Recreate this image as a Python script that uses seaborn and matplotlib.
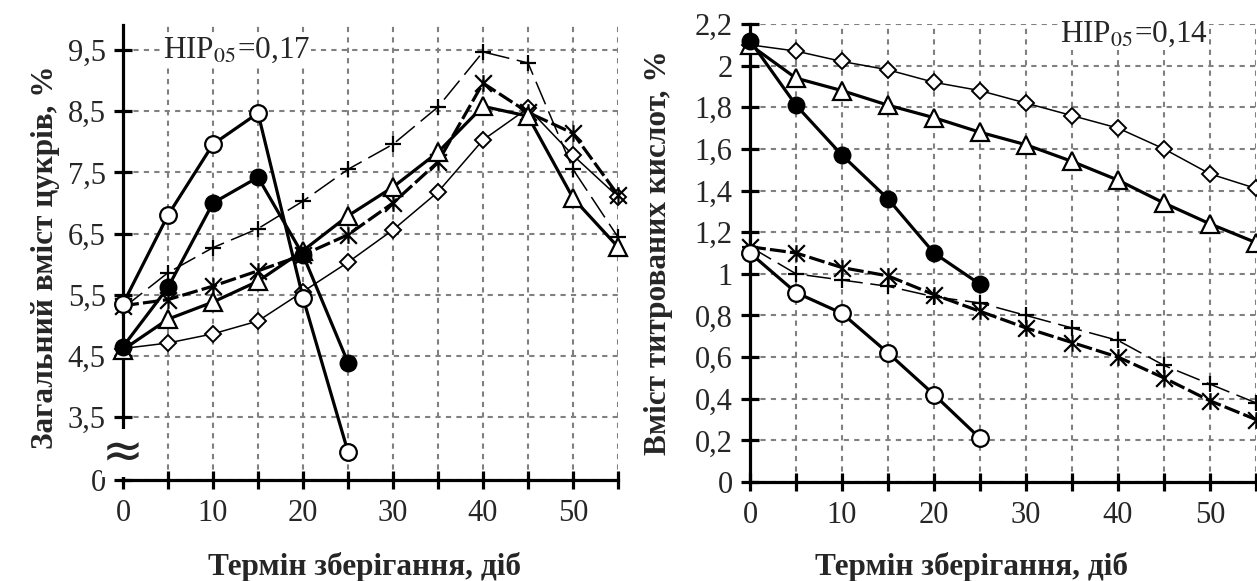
import matplotlib
matplotlib.use("Agg")
import matplotlib.pyplot as plt
import seaborn as sns
import numpy as np
from matplotlib.path import Path

# ---------------- data ----------------
days = [0, 5, 10, 15, 20, 25, 30, 35, 40, 45, 50, 55]
days_short = [0, 5, 10, 15, 20, 25]

# left panel: total sugar content, %
sug_open_circle = [5.35, 6.80, 7.96, 8.47, 5.45, 2.93]
sug_filled_circle = [4.65, 5.62, 7.00, 7.42, 6.15, 4.39]
sug_plus = [5.28, 5.86, 6.27, 6.58, 7.03, 7.55, 7.96, 8.57, 9.47, 9.29, 7.55, 6.44]
sug_star = [5.32, 5.42, 5.64, 5.89, 6.15, 6.48, 7.00, 7.67, 8.96, 8.48, 8.14, 7.13]
sug_triangle = [4.60, 5.10, 5.38, 5.72, 6.22, 6.79, 7.26, 7.83, 8.58, 8.42, 7.08, 6.28]
sug_diamond = [4.62, 4.71, 4.86, 5.07, 5.55, 6.03, 6.56, 7.18, 8.03, 8.55, 7.78, 7.10]

# right panel: titratable acids, %
acid_open_circle = [1.10, 0.91, 0.81, 0.62, 0.42, 0.21]
acid_filled_circle = [2.12, 1.81, 1.57, 1.36, 1.10, 0.95]
acid_plus = [1.13, 1.00, 0.97, 0.94, 0.89, 0.86, 0.80, 0.74, 0.68, 0.56, 0.47, 0.38]
acid_star = [1.13, 1.10, 1.03, 0.99, 0.90, 0.82, 0.74, 0.67, 0.60, 0.50, 0.39, 0.30]
acid_triangle = [2.10, 1.94, 1.88, 1.81, 1.75, 1.68, 1.62, 1.54, 1.45, 1.34, 1.24, 1.15]
acid_diamond = [2.10, 2.07, 2.02, 1.98, 1.92, 1.88, 1.82, 1.76, 1.70, 1.60, 1.48, 1.41]

left_yticks = [2.47, 3.5, 4.5, 5.5, 6.5, 7.5, 8.5, 9.5]
left_yticklabels = ["0", "3,5", "4,5", "5,5", "6,5", "7,5", "8,5", "9,5"]
right_yticks = [0, 0.2, 0.4, 0.6, 0.8, 1.0, 1.2, 1.4, 1.6, 1.8, 2.0, 2.2]
right_yticklabels = ["0", "0,2", "0,4", "0,6", "0,8", "1", "1,2", "1,4", "1,6", "1,8", "2", "2,2"]

xlabel = "Термін зберігання, діб"
left_ylabel = "Загальний вміст цукрів, %"
right_ylabel = "Вміст титрованих кислот, %"
left_note = "НІР$_{05}$=0,17"
right_note = "НІР$_{05}$=0,14"

# ---------------- style ----------------
sns.set_theme(style="white")
plt.rcParams["font.family"] = ["Liberation Serif", "DejaVu Serif"]
plt.rcParams["mathtext.fontset"] = "stix"

star_marker = Path(
    [(-1, -1), (1, 1), (-1, 1), (1, -1), (0, -1), (0, 1)],
    [Path.MOVETO, Path.LINETO, Path.MOVETO, Path.LINETO, Path.MOVETO, Path.LINETO],
)

THICK = 2.3
THIN = 1.1
common = dict(color="black", clip_on=False, sort=False, errorbar=None,
              markeredgecolor="black", legend=False)

styles = {
    "diamond": dict(marker="D", markersize=8.5, markerfacecolor="white",
                    markeredgewidth=1.4, linewidth=THIN),
    "plus": dict(marker="+", markersize=12, markeredgewidth=1.6,
                 linewidth=THIN, linestyle=(0, (16, 5))),
    "star": dict(marker=star_marker, markersize=12, markeredgewidth=1.6,
                 linewidth=THICK, linestyle=(0, (5, 1.3))),
    "triangle": dict(marker="^", markersize=13, markerfacecolor="white",
                     markeredgewidth=1.6, linewidth=THICK),
    "filled": dict(marker="o", markersize=11.5, markerfacecolor="black",
                   markeredgewidth=1.4, linewidth=THICK),
    "open": dict(marker="o", markersize=12, markerfacecolor="white",
                 markeredgewidth=1.6, linewidth=THICK),
}

W, H = 1257, 581
fig = plt.figure(figsize=(W / 100, H / 100), dpi=100)
axL = fig.add_axes([123 / W, (H - 480) / H, 495 / W, 455 / H])
axR = fig.add_axes([750 / W, (H - 482) / H, 506 / W, 458 / H])


def draw(ax, series):
    for key, x, y in series:
        sns.lineplot(x=x, y=y, ax=ax, **common, **styles[key])


draw(axL, [
    ("diamond", days, sug_diamond),
    ("plus", days, sug_plus),
    ("star", days, sug_star),
    ("triangle", days, sug_triangle),
    ("filled", days_short, sug_filled_circle),
    ("open", days_short, sug_open_circle),
])
draw(axR, [
    ("diamond", days, acid_diamond),
    ("plus", days, acid_plus),
    ("star", days, acid_star),
    ("triangle", days, acid_triangle),
    ("filled", days_short, acid_filled_circle),
    ("open", days_short, acid_open_circle),
])

TICKFS = 22
LABFS = 22.5
for ax in (axL, axR):
    ax.set_xlim(0, 55)
    ax.set_xticks(days)
    ax.set_xticklabels([str(d) if d % 10 == 0 else "" for d in days], fontsize=TICKFS)
    for s in ("top", "right"):
        ax.spines[s].set_visible(False)
    for s in ("left", "bottom"):
        ax.spines[s].set_linewidth(2.3)
        ax.spines[s].set_color("black")
        ax.spines[s].set_zorder(1.5)
    ax.tick_params(axis="both", direction="inout", length=13, width=2.3,
                   color="black", labelsize=TICKFS, left=True, bottom=True)
    ax.tick_params(axis="x", pad=7)
    ax.tick_params(axis="y", pad=6)
    ax.grid(True, color="#808080", linestyle=(0, (2.5, 2.5)), linewidth=1.5)
    ax.set_axisbelow(True)
    ax.set_facecolor("white")
    ax.set_xlabel(xlabel, fontsize=LABFS, fontweight="bold")

axL.set_ylim(2.47, 9.91)
axL.set_yticks(left_yticks)
axL.set_yticklabels(left_yticklabels)
axL.set_ylabel(left_ylabel, fontsize=LABFS, fontweight="bold")
axL.xaxis.set_label_coords(0.487, -0.158)
axL.yaxis.set_label_coords(-0.127, 0.49)

axR.set_ylim(0, 2.2)
axR.set_yticks(right_yticks)
axR.set_yticklabels(right_yticklabels)
axR.set_ylabel(right_ylabel, fontsize=LABFS, fontweight="bold")
axR.xaxis.set_label_coords(0.437, -0.153)
axR.yaxis.set_label_coords(-0.152, 0.50)

# axis break symbol on the left y axis
axL.text(0, 2.91, "≈", fontsize=36, ha="center", va="center",
         family="DejaVu Sans", zorder=5, clip_on=False,
         bbox=dict(facecolor="white", edgecolor="none", pad=0))

axL.text(4.4, 9.5, left_note, fontsize=22.5, ha="left", va="center", zorder=1,
         bbox=dict(facecolor="white", edgecolor="none", pad=1))
axR.text(33.7, 2.15, right_note, fontsize=22.5, ha="left", va="center", zorder=1,
         bbox=dict(facecolor="white", edgecolor="none", pad=1))

fig.savefig("out.png", dpi=100, facecolor="white")
